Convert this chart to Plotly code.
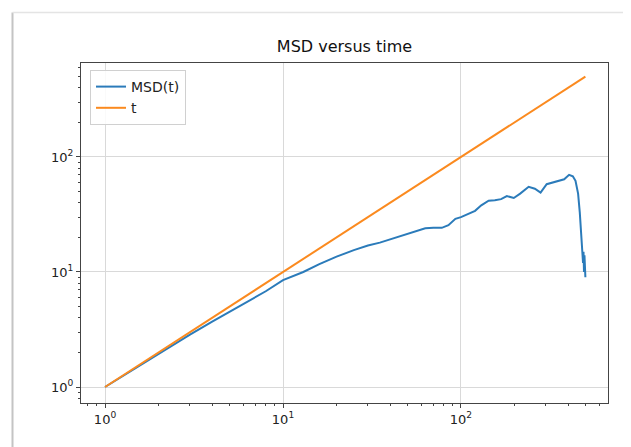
import plotly.graph_objects as go

# ---- data ----
msd_t = [1, 1.5, 2, 3, 4, 5, 6, 7, 8, 10, 13, 16, 20, 25, 30, 35, 43, 50, 56, 63, 70, 78,
         85, 93, 100, 111, 120, 130, 143, 155, 168, 181, 198, 215, 240, 260, 280, 303,
         330, 355, 380, 405, 425, 440, 455, 465, 472, 480, 485, 488, 491, 494, 497, 500]
msd_val = [1.0, 1.48, 1.95, 2.85, 3.7, 4.5, 5.3, 6.0, 6.8, 8.5, 10.0, 11.7, 13.6, 15.5, 17.0,
           18.0, 20.0, 21.5, 22.8, 24.0, 24.3, 24.2, 25.5, 29.0, 30.0, 32.0, 34.0, 38.0,
           41.7, 42.0, 43.0, 45.7, 44.0, 48.0, 55.0, 53.0, 49.0, 58.0, 60.0, 62.0, 64.0,
           70.0, 68.0, 62.0, 48.0, 33.0, 23.0, 16.0, 12.0, 15.0, 10.0, 14.0, 9.5, 9.0]
line_t = [1, 10, 100, 500]
line_val = [1, 10, 100, 500]

tick_vals = [1, 10, 100]
tick_text = ["10<sup>0</sup>", "10<sup>1</sup>", "10<sup>2</sup>"]
minor_vals = [m * d for d in (0.1, 1, 10, 100) for m in range(2, 10)]

# page body has an 8px margin, so the figure is drawn at (8, 8)
OFF = 8
W, H = 631 - OFF, 447 - OFF
L, R, T, B = 81 - OFF, 631 - 608, 63 - OFF, 447 - 403
PW, PH = W - L - R, H - T - B

fig = go.Figure()
fig.add_trace(go.Scatter(x=msd_t, y=msd_val, mode="lines", name="MSD(t)",
                         line=dict(color="#2b7bba", width=2)))
fig.add_trace(go.Scatter(x=line_t, y=line_val, mode="lines", name="t",
                         line=dict(color="#fb8a1f", width=2)))

axis_common = dict(
    type="log", showgrid=True, gridcolor="#d9d9d9", gridwidth=1,
    showline=True, mirror=True, linecolor="#444444", linewidth=1.3,
    ticks="outside", ticklen=4, tickwidth=1, tickcolor="#444444",
    tickvals=tick_vals, ticktext=tick_text,
    tickfont=dict(family="DejaVu Sans", size=13, color="#222222"),
    minor=dict(ticks="outside", ticklen=2, tickwidth=0.8, tickcolor="#444444",
               tickvals=minor_vals, showgrid=False),
    zeroline=False,
)

fig.update_layout(
    width=W, height=H,
    paper_bgcolor="white", plot_bgcolor="white",
    margin=dict(l=L, r=R, t=T, b=B),
    title=dict(text="MSD versus time", x=(L + PW / 2) / W, xanchor="center",
               y=1 - (46 - OFF) / H, yanchor="middle",
               font=dict(family="DejaVu Sans", size=16, color="#111111")),
    xaxis=dict(range=[-0.135, 2.826], **axis_common),
    yaxis=dict(range=[-0.139, 2.817], **axis_common),
    legend=dict(x=(90 - 81) / PW, y=1 - (70 - 63) / PH, xanchor="left", yanchor="top",
                bgcolor="rgba(255,255,255,0.85)", bordercolor="#d0d0d0", borderwidth=1,
                font=dict(family="DejaVu Sans", size=14, color="#222222")),
    showlegend=True,
)

# screenshot card border (left and top), at page pixel 12.5
bx = (12.5 - 81) / PW
by = 1 + (63 - 12.5) / PH
fig.add_shape(type="line", xref="paper", yref="paper",
              x0=bx, x1=bx, y0=-0.2, y1=by,
              line=dict(color="#c4c4c4", width=2))
fig.add_shape(type="line", xref="paper", yref="paper",
              x0=bx, x1=1.1, y0=by, y1=by,
              line=dict(color="#e4e4e4", width=1.5))

fig.write_html("out.html")
